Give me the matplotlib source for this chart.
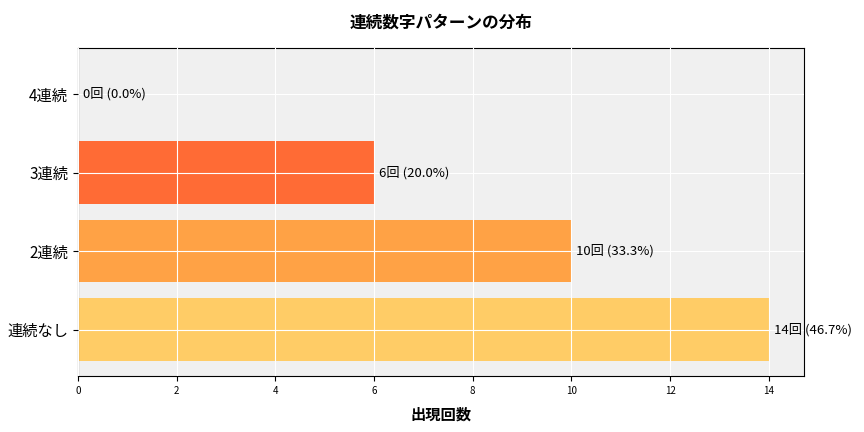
import matplotlib
matplotlib.use('Agg')
import matplotlib.pyplot as plt

plt.rcParams['font.family'] = 'Noto Sans CJK JP'

categories = ['連続なし', '2連続', '3連続', '4連続']
counts = [14, 10, 6, 0]
percents = [46.7, 33.3, 20.0, 0.0]
colors = ['#FFCC66', '#FFA245', '#FF6B35', '#E63946']

fig, ax = plt.subplots(figsize=(8.64, 4.32), dpi=100)
ax.set_facecolor('#F0F0F0')
bars = ax.barh(categories, counts, color=colors, height=0.8)
ax.grid(True, color='white', linewidth=0.8)
ax.set_axisbelow(False)
for b, c, p in zip(bars, counts, percents):
    ax.text(b.get_width() + 0.1, b.get_y() + b.get_height() / 2,
            f'{c}回 ({p:.1f}%)', va='center', ha='left', fontsize=9.5)
ax.set_xlim(0, 14.7)
ax.set_xticks(range(0, 15, 2))
ax.tick_params(axis='x', labelsize=7)
ax.tick_params(axis='y', labelsize=11)
ax.set_xlabel('出現回数', fontsize=11, fontweight='bold', labelpad=8)
ax.set_title('連続数字パターンの分布', fontsize=12, fontweight='bold', pad=15)
fig.subplots_adjust(left=0.09, right=0.93, top=0.889, bottom=0.13)
fig.savefig('out.png', dpi=100)
